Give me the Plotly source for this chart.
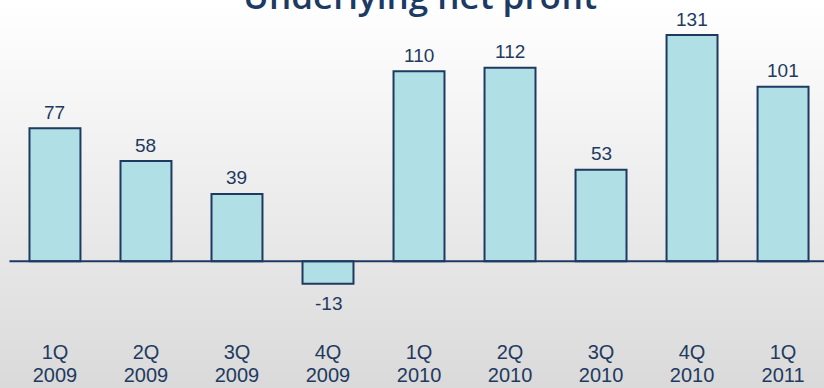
import plotly.graph_objects as go

# Quarterly underlying net profit
quarters = ["1Q", "2Q", "3Q", "4Q", "1Q", "2Q", "3Q", "4Q", "1Q"]
years = ["2009", "2009", "2009", "2009", "2010", "2010", "2010", "2010", "2011"]
profit = [77, 58, 39, -13, 110, 112, 53, 131, 101]

NAVY = "#1f3a60"
BAR_FILL = "#b0dfe5"
LABEL_FONT = "Liberation Sans, Arial, sans-serif"
H = 388

tick_pos = list(range(len(profit)))

fig = go.Figure()
fig.add_trace(go.Bar(
    x=tick_pos,
    y=profit,
    width=0.56,
    marker=dict(color=BAR_FILL, line=dict(color=NAVY, width=2)),
    hoverinfo="skip",
))
# invisible trace so the second category axis (years) gets drawn
fig.add_trace(go.Scatter(
    x=tick_pos, y=[0] * len(tick_pos), xaxis="x2",
    mode="markers", marker=dict(opacity=0), hoverinfo="skip",
))

# value labels above positive bars, below negative ones
annotations = []
for i, v in enumerate(profit):
    annotations.append(dict(
        x=i, y=v, xref="x", yref="y",
        text=str(v), showarrow=False,
        yanchor="middle",
        yshift=16 if v >= 0 else -20,
        font=dict(family=LABEL_FONT, size=19, color=NAVY),
    ))

# chart title, partly running off the top edge
annotations.append(dict(
    x=420 / 824, y=1, xref="paper", yref="paper",
    text="Underlying net profit", showarrow=False,
    yanchor="middle", xanchor="center", yshift=5,
    font=dict(family="Open Sans, sans-serif", size=35, color="#1c3a63", weight=600),
))

# vertical background gradient, white to light grey
shapes = []
n_bands = 97
for k in range(n_bands):
    t = k / (n_bands - 1)
    c = round(255 - t * (255 - 218))
    shapes.append(dict(
        type="rect", xref="paper", yref="paper",
        x0=0, x1=1,
        y0=1 - (k + 1) / n_bands, y1=1 - k / n_bands + 0.002,
        fillcolor=f"rgb({c},{c},{c})", line=dict(width=0),
        layer="below",
    ))

x_range = [-0.604, 8.45]
# baseline at zero
shapes.append(dict(
    type="line", xref="x", yref="y",
    x0=-0.5, x1=x_range[1], y0=0, y1=0,
    line=dict(color=NAVY, width=2),
    layer="above",
))

tick_font = dict(family=LABEL_FONT, size=20, color=NAVY)
fig.update_layout(
    width=824, height=H,
    margin=dict(l=0, r=0, t=0, b=0),
    paper_bgcolor="white",
    plot_bgcolor="rgba(0,0,0,0)",
    showlegend=False,
    shapes=shapes,
    annotations=annotations,
    xaxis=dict(
        range=x_range,
        tickvals=tick_pos, ticktext=quarters,
        showgrid=False, zeroline=False, showline=False,
        ticks="", anchor="free", position=1 - 338 / H,
        tickfont=tick_font,
    ),
    xaxis2=dict(
        range=x_range, overlaying="x",
        tickvals=tick_pos, ticktext=years,
        showgrid=False, zeroline=False, showline=False,
        ticks="", anchor="free", position=1 - 361 / H, side="bottom",
        tickfont=tick_font,
    ),
    yaxis=dict(
        range=[-73.4, 151.3],
        showgrid=False, zeroline=False, showline=False,
        showticklabels=False, ticks="",
    ),
)

fig.write_html("out.html")
